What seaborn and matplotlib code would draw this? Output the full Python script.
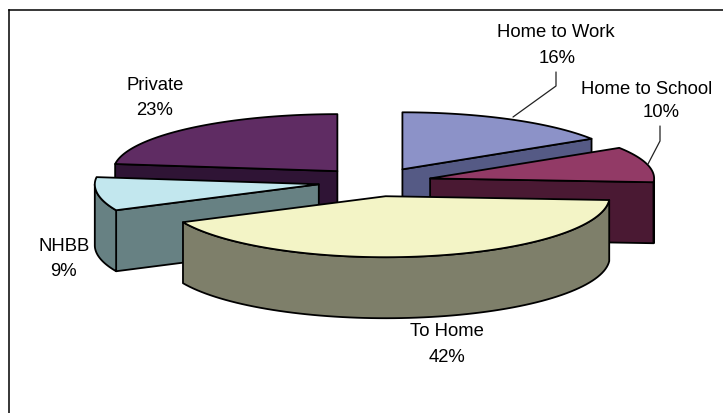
import numpy as np
import matplotlib
matplotlib.use("Agg")
import matplotlib.pyplot as plt
import seaborn as sns

categories = ["Home to Work", "Home to School", "To Home", "NHBB", "Private"]
shares = [16, 10, 42, 9, 23]
top_colors = ["#8C92C8", "#923A66", "#F3F4C6", "#C2E7EE", "#5F2C63"]
side_colors = ["#555A85", "#4A1933", "#7E7F6A", "#678183", "#2F1435"]
name_pos = [(556, 32), (647, 89), (447, 332), (64, 246), (155, 85)]
pct_pos = [(557, 58), (661, 112), (447, 357), (63, 272), (155, 110)]

W, H = 723, 414
CX, CY, RX, RY_BACK, RY_FRONT = 375, 183, 224, 57, 61
EXPLODE, DEPTH = 0.254, 61

sns.set_theme(style="white", rc={"font.family": ["Liberation Sans", "DejaVu Sans"]})
fig = plt.figure(figsize=(W / 100, H / 100), dpi=100, facecolor="white")
ax = fig.add_axes([9 / W, 0, 1 - 9 / W, 1 - 11 / H])
ax.set_xlim(9, W)
ax.set_ylim(H, 11)
ax.set_xticks([])
ax.set_yticks([])
sns.despine(ax=ax, top=False, left=False, right=True, bottom=True)
for s in ("top", "left"):
    ax.spines[s].set_color("black")
    ax.spines[s].set_linewidth(1.1)

edges = np.concatenate([[0], np.cumsum(shares)]) / np.sum(shares) * 2 * np.pi


def point(ox, oy, t):
    c = np.cos(t)
    return ox + RX * np.sin(t), oy - np.where(c >= 0, RY_BACK, RY_FRONT) * c


def origin(i):
    mid = (edges[i] + edges[i + 1]) / 2
    return CX + EXPLODE * RX * np.sin(mid), CY - EXPLODE * RY_BACK * np.cos(mid)


def draw_slice(i):
    a0, a1 = edges[i], edges[i + 1]
    ox, oy = origin(i)
    kw = dict(edgecolor="black", linewidth=1.3, joinstyle="round", facecolor=side_colors[i])
    # radial walls that face the viewer
    visible = []
    if np.sin(a0) < 0:
        visible.append(a0)
    if np.sin(a1) > 0:
        visible.append(a1)
    for a in visible:
        px, py = point(ox, oy, a)
        ax.fill([ox, px, px, ox], [oy, py, py + DEPTH, oy + DEPTH], **kw)
    # outer rim on the lower half of the ellipse
    lo, hi = max(a0, np.pi / 2), min(a1, 3 * np.pi / 2)
    if hi > lo:
        rx, ry = point(ox, oy, np.linspace(lo, hi, 80))
        ax.fill(np.r_[rx, rx[::-1]], np.r_[ry, ry[::-1] + DEPTH], **kw)
    # top surface
    xs, ys = point(ox, oy, np.linspace(a0, a1, 80))
    ax.fill(np.r_[ox, xs], np.r_[oy, ys], facecolor=top_colors[i],
            edgecolor="black", linewidth=1.3, joinstyle="round")


for i in [4, 0, 1, 3, 2]:
    draw_slice(i)

ax.plot([556, 556, 513], [73, 87, 118], color="#222222", lw=0.9)
ax.plot([660, 660, 648], [127, 142, 165], color="#222222", lw=0.9)

for name, value, np_, pp in zip(categories, shares, name_pos, pct_pos):
    ax.text(*np_, name, ha="center", va="center", fontsize=13.3, color="black")
    ax.text(*pp, f"{value}%", ha="center", va="center", fontsize=13.3, color="black")

fig.savefig("out.png", dpi=100, facecolor="white")
